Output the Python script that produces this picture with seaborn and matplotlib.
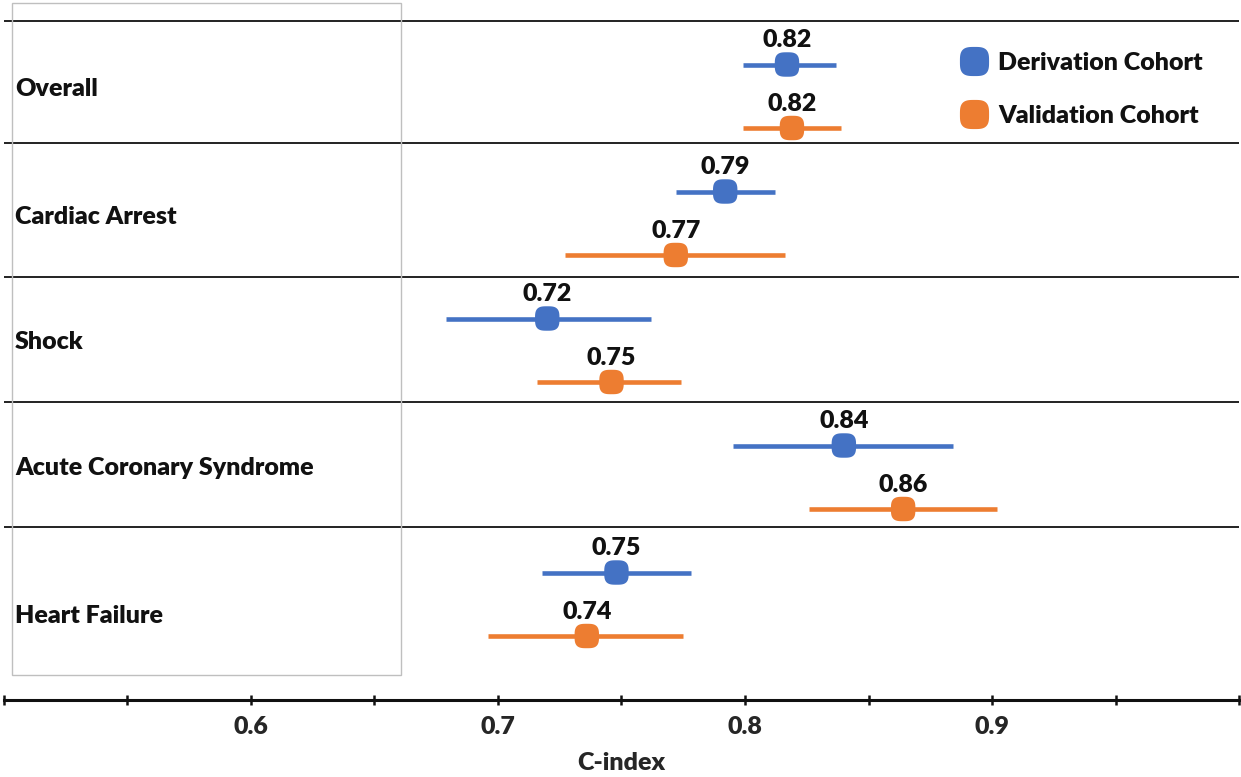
import numpy as np
import pandas as pd
import matplotlib
matplotlib.use("Agg")
import matplotlib.pyplot as plt
import seaborn as sns
from matplotlib.lines import Line2D
from matplotlib.patches import Rectangle
from matplotlib.path import Path
import matplotlib.transforms as mtransforms

# ---------------- data ----------------
categories = ["Overall", "Cardiac Arrest", "Shock", "Acute Coronary Syndrome", "Heart Failure"]
cohorts = ["Derivation Cohort", "Validation Cohort"]
deriv_c = [0.817, 0.792, 0.720, 0.840, 0.748]
deriv_lo = [0.799, 0.772, 0.679, 0.795, 0.718]
deriv_hi = [0.837, 0.812, 0.762, 0.884, 0.778]
valid_c = [0.819, 0.772, 0.746, 0.864, 0.736]
valid_lo = [0.799, 0.727, 0.716, 0.826, 0.696]
valid_hi = [0.839, 0.816, 0.774, 0.902, 0.775]
xtick_vals = [0.5, 0.55, 0.6, 0.65, 0.7, 0.75, 0.8, 0.85, 0.9, 0.95, 1.0]
xtick_labels = ["", "", "0.6", "", "0.7", "", "0.8", "", "0.9", "", ""]

rows = []
for g, cat in enumerate(categories):
    rows.append(dict(category=cat, cohort=cohorts[0], c=deriv_c[g], lo=deriv_lo[g], hi=deriv_hi[g], pos=2 * g))
    rows.append(dict(category=cat, cohort=cohorts[1], c=valid_c[g], lo=valid_lo[g], hi=valid_hi[g], pos=2 * g + 1))
df = pd.DataFrame(rows)

# ---------------- style ----------------
sns.set_style("white")
plt.rcParams["font.family"] = ["Lato", "DejaVu Sans"]
plt.rcParams["font.weight"] = "heavy"
FW = "heavy"

palette = {"Derivation Cohort": "#4472C4", "Validation Cohort": "#ED7D31"}

# rounded-square (superellipse) marker
t = np.linspace(0, 2 * np.pi, 80)
n = 3.2
sx = np.sign(np.cos(t)) * np.abs(np.cos(t)) ** (2 / n)
sy = np.sign(np.sin(t)) * np.abs(np.sin(t)) ** (2 / n)
rmarker = Path(np.column_stack([sx, sy]), closed=True)

W, H = 1241, 777
fig = plt.figure(figsize=(W / 100, H / 100), dpi=100)
ax_left, ax_right = 3.5, 1239.3
ax_top, ax_bottom = 0, 700
ax = fig.add_axes([ax_left / W, 1 - ax_bottom / H, (ax_right - ax_left) / W, (ax_bottom - ax_top) / H])

# CI lines
for coh, sub in df.groupby("cohort"):
    ax.hlines(sub["pos"], sub["lo"], sub["hi"], color=palette[coh], lw=3.3, zorder=2)

sns.scatterplot(data=df, x="c", y="pos", hue="cohort", palette=palette, s=310,
                marker=rmarker, edgecolor="none", legend=False, ax=ax, zorder=3)

for _, r in df.iterrows():
    ax.annotate(f"{r['c']:.2f}", (r["c"], r["pos"]), xytext=(0, 17.5), textcoords="offset points",
                ha="center", va="center", fontsize=18, fontweight=FW, color="#111111")

# y-scale: rows every 63.5 px, first at 64.5 px
y0, dy = 64.5, 63.5
ax.set_ylim((ax_bottom - y0) / dy, (ax_top - y0) / dy)
ax.set_xlim(0.5, 1.0)

# separators
for s in [-0.685, 1.244, 3.354, 5.320, 7.283]:
    ax.axhline(s, color="#222222", lw=1.4, zorder=1)

# category labels
trans = mtransforms.blended_transform_factory(ax.transAxes, ax.transData)
label_pos = [0.385, 2.40, 4.37, 6.35, 8.685]
for cat, yp in zip(categories, label_pos):
    ax.text((15 - ax_left) / (ax_right - ax_left), yp, cat, transform=trans, ha="left", va="center",
            fontsize=18, fontweight=FW, color="#111111")

# gray box
fig.patches.append(Rectangle((12 / W, 1 - 675 / H), 389 / W, 672 / H, transform=fig.transFigure,
                             fill=False, edgecolor="#BFBFBF", lw=1.0))

# axes styling
for sp in ["top", "left", "right"]:
    ax.spines[sp].set_visible(False)
ax.spines["bottom"].set_color("#111111")
ax.spines["bottom"].set_linewidth(2.2)
ax.set_yticks([])
ax.set_xticks(xtick_vals)
ax.set_xticklabels(xtick_labels, fontsize=18, fontweight=FW)
ax.tick_params(axis="x", bottom=True, direction="inout", length=7, width=1.8, color="#111111", pad=8)
ax.set_ylabel("")
ax.set_xlabel("C-index", fontsize=18, fontweight=FW)
ax.xaxis.set_label_coords(0.5, -0.074)

# legend
handles = [Line2D([0], [0], marker=rmarker, linestyle="none", markersize=21, markerfacecolor=palette[c],
                  markeredgecolor="none") for c in cohorts]
leg = ax.legend(handles, cohorts, loc="center left", bbox_to_anchor=(961 / W, 1 - 89.5 / H),
                bbox_transform=fig.transFigure, frameon=False, prop=dict(size=18, weight=FW),
                handlelength=1.0, handletextpad=0.5, labelspacing=1.25, borderpad=0, borderaxespad=0)
for tx in leg.get_texts():
    tx.set_color("#111111")

fig.savefig("out.png", dpi=100, facecolor="white")
